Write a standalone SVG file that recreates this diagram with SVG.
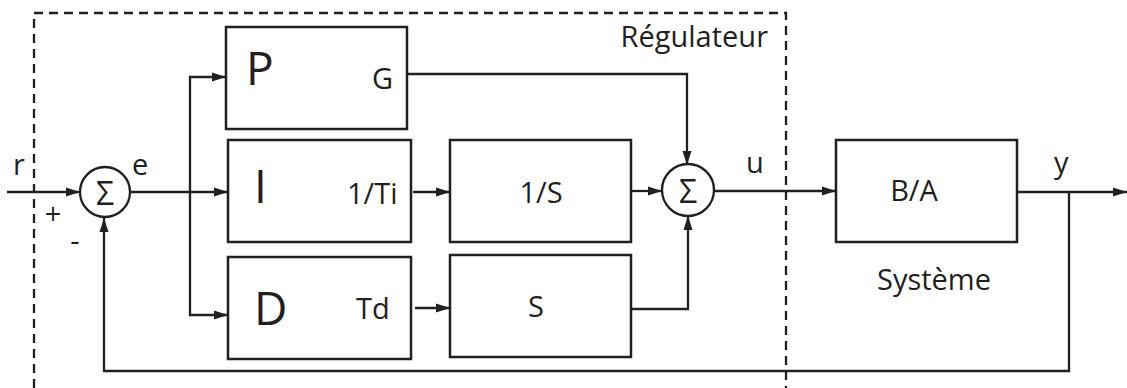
<svg xmlns="http://www.w3.org/2000/svg" width="1127" height="388" viewBox="0 0 1127 388">
<defs>
<marker id="arr" markerUnits="userSpaceOnUse" markerWidth="16" markerHeight="12" refX="14" refY="6" orient="auto">
<path d="M0,1.5 L14,6 L0,10.5 Z" fill="#231f20"/>
</marker>
</defs>
<style>
.box{fill:#fff;stroke:#231f20;stroke-width:2.5}
.sum{fill:#fff;stroke:#231f20;stroke-width:2.3}
.ln{fill:none;stroke:#231f20;stroke-width:2.3}
.dash{fill:none;stroke:#231f20;stroke-width:2.3;stroke-dasharray:9 6}
text{font-family:"Open Sans","Noto Sans",sans-serif;fill:#231f20}
.s{font-size:29px}
.b{font-size:46px}
.sg{font-size:32px;text-anchor:middle}
.m{text-anchor:middle}
</style>
<rect width="1127" height="388" fill="#fff"/>
<g id="regulateur">
<path class="dash" d="M34,388 V13 H786 V388"/>
<text class="s" x="768" y="47" text-anchor="end">Régulateur</text>
</g>
<g id="connectors">
<path class="ln" d="M7,192 H80" marker-end="url(#arr)"/>
<path class="ln" d="M130,192 H228" marker-end="url(#arr)"/>
<path class="ln" d="M190,192 V77 H226" marker-end="url(#arr)"/>
<path class="ln" d="M190,192 V315 H228" marker-end="url(#arr)"/>
<path class="ln" d="M407,74 H687 V165" marker-end="url(#arr)"/>
<path class="ln" d="M413,192 H450" marker-end="url(#arr)"/>
<path class="ln" d="M631,191 H662" marker-end="url(#arr)"/>
<path class="ln" d="M415,308 H450" marker-end="url(#arr)"/>
<path class="ln" d="M631,309 H688 V216" marker-end="url(#arr)"/>
<path class="ln" d="M714,191 H836" marker-end="url(#arr)"/>
<path class="ln" d="M1017,192 H1127" marker-end="url(#arr)"/>
<path class="ln" d="M1069,192 V371 H104 V218" marker-end="url(#arr)"/>
</g>
<g id="sum1">
<circle class="sum" cx="105" cy="192" r="25"/>
<text class="sg" x="105" y="205">Σ</text>
</g>
<g id="P">
<rect class="box" x="226" y="27" width="181" height="102"/>
<text class="b" x="246" y="85">P</text>
<text class="s" x="372" y="89">G</text>
</g>
<g id="I">
<rect class="box" x="228" y="140" width="183" height="102"/>
<text class="b" x="254" y="203">I</text>
<text class="s" x="347" y="204">1/Ti</text>
</g>
<g id="D">
<rect class="box" x="228" y="257" width="183" height="102"/>
<text class="b" x="254" y="325">D</text>
<text class="s" x="356" y="319">Td</text>
</g>
<g id="integ">
<rect class="box" x="450" y="140" width="181" height="102"/>
<text class="s m" x="541" y="203">1/S</text>
</g>
<g id="deriv">
<rect class="box" x="450" y="255" width="181" height="102"/>
<text class="s m" x="536" y="317">S</text>
</g>
<g id="sum2">
<circle class="sum" cx="688" cy="190" r="26"/>
<text class="sg" x="688" y="203">Σ</text>
</g>
<g id="system">
<rect class="box" x="836" y="140" width="181" height="102"/>
<text class="s m" x="914" y="201">B/A</text>
<text class="s m" x="934" y="290">Système</text>
</g>
<g id="labels">
<text class="s" x="13" y="175">r</text>
<text class="s" x="132" y="175">e</text>
<text class="s m" x="53" y="224">+</text>
<text class="s m" x="75" y="251">-</text>
<text class="s" x="746" y="173">u</text>
<text class="s" x="1054" y="173">y</text>
</g>
</svg>
